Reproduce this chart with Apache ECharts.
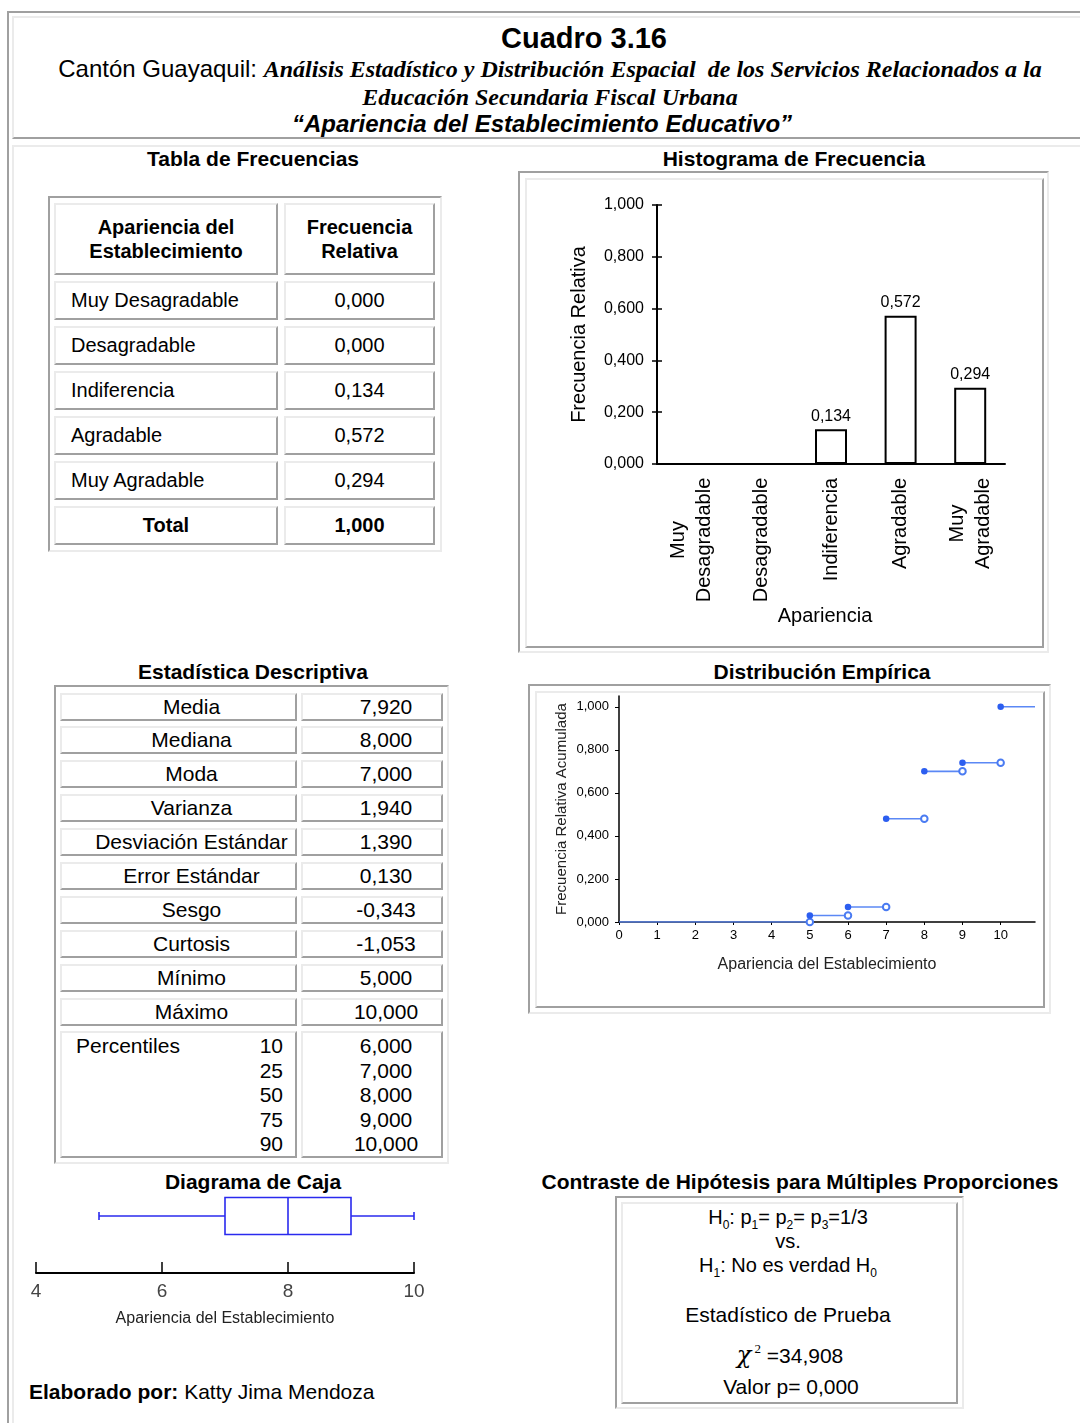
<!DOCTYPE html>
<html><head><meta charset="utf-8">
<script src="https://cdn.jsdelivr.net/npm/echarts@6/dist/echarts.min.js"></script>
<style>
html,body{margin:0;padding:0;background:#fff;}
body{width:1080px;height:1423px;position:relative;overflow:hidden;font-family:'Liberation Sans',Arial,sans-serif;color:#000;}
.abs{position:absolute;box-sizing:border-box;}
.outer{border:2px solid;border-color:#a0a0a0 #ebebeb #ebebeb #a0a0a0;}
.cell{border:2px solid;border-color:#ebebeb #a0a0a0 #a0a0a0 #ebebeb;}
.t{position:absolute;white-space:nowrap;text-align:center;}
sub,sup{line-height:0;}
#chart{position:absolute;left:0;top:0;width:1080px;height:1423px;}
</style></head><body>
<div id="page"></div>
<div id="chart"></div>
<script>
// ---------------- DATA ----------------
const freqCategories = ['Muy Desagradable', 'Desagradable', 'Indiferencia', 'Agradable', 'Muy Agradable'];
const freqValues = [0.000, 0.000, 0.134, 0.572, 0.294];
const freqTotal = 1.000;
const histLabels = ['Muy\nDesagradable', 'Desagradable', 'Indiferencia', 'Agradable', 'Muy\nAgradable'];
const histYTicks = [0, 0.2, 0.4, 0.6, 0.8, 1.0];
const statNames = ['Media', 'Mediana', 'Moda', 'Varianza', 'Desviación Estándar', 'Error Estándar', 'Sesgo', 'Curtosis', 'Mínimo', 'Máximo'];
const statValues = [7.920, 8.000, 7.000, 1.940, 1.390, 0.130, -0.343, -1.053, 5.000, 10.000];
const percentileLevels = [10, 25, 50, 75, 90];
const percentileValues = [6.000, 7.000, 8.000, 9.000, 10.000];
const ecdfX = [0, 5, 6, 7, 8, 9, 10];
const ecdfY = [0.000, 0.030, 0.070, 0.480, 0.700, 0.740, 1.000];
const ecdfXTicks = [0, 1, 2, 3, 4, 5, 6, 7, 8, 9, 10];
const ecdfYTicks = [0, 0.2, 0.4, 0.6, 0.8, 1.0];
const boxStats = [5, 7, 8, 9, 10]; // min, Q1, median, Q3, max
const boxXTicks = [4, 6, 8, 10];
const chiSquare = 34.908;
const pValue = 0.000;

const fmt = v => v.toFixed(3).replace('.', ',');
const page = document.getElementById('page');

function box(x, y, w, h, cls, css) {
  const d = document.createElement('div');
  d.className = 'abs ' + (cls || '');
  d.style.left = x + 'px'; d.style.top = y + 'px';
  d.style.width = w + 'px'; d.style.height = h + 'px';
  if (css) d.style.cssText += css;
  page.appendChild(d);
  return d;
}
function txt(cx, cy, html, css, lh) {
  lh = lh || 30;
  const d = document.createElement('div');
  d.className = 't';
  d.style.left = (cx - 600) + 'px'; d.style.width = '1200px';
  d.style.top = (cy - lh / 2) + 'px'; d.style.lineHeight = lh + 'px';
  if (css) d.style.cssText += css;
  d.innerHTML = html;
  page.appendChild(d);
  return d;
}
function cellText(el, html, css) {
  el.innerHTML = html;
  el.style.cssText += css;
}

// ---------------- PAGE FRAMES ----------------
box(7, 11, 1110, 1500, '', 'border-top:2px solid #a0a0a0;border-left:2px solid #a0a0a0;');
box(12, 16, 1100, 123, '', 'border-top:2px solid #ebebeb;border-left:2px solid #ebebeb;border-bottom:2px solid #a0a0a0;');
box(12, 145, 1100, 1400, '', 'border-top:2px solid #ebebeb;border-left:2px solid #ebebeb;');

// ---------------- HEADER ----------------
txt(584, 38, 'Cuadro 3.16', 'font-size:29px;font-weight:bold;');
txt(550, 69, 'Cantón Guayaquil: <span style="font-family:\'Liberation Serif\',serif;font-style:italic;font-weight:bold;">Análisis Estadístico y Distribución Espacial&nbsp; de los Servicios Relacionados a la</span>', 'font-size:24px;');
txt(550, 97, 'Educación Secundaria Fiscal Urbana', 'font-size:24px;font-family:\'Liberation Serif\',serif;font-style:italic;font-weight:bold;');
txt(542, 124, '“Apariencia del Establecimiento Educativo”', 'font-size:24px;font-weight:bold;font-style:italic;');

// ---------------- SECTION TITLES ----------------
const secCss = 'font-size:21px;font-weight:bold;';
txt(253, 159, 'Tabla de Frecuencias', secCss);
txt(794, 159, 'Histograma de Frecuencia', secCss);
txt(253, 672, 'Estadística Descriptiva', secCss);
txt(822, 672, 'Distribución Empírica', secCss);
txt(253, 1182, 'Diagrama de Caja', secCss);
txt(800, 1182, 'Contraste de Hipótesis para Múltiples Proporciones', secCss);

// ---------------- FREQUENCY TABLE ----------------
box(48, 196, 394, 356, 'outer');
{
  const h1 = box(54, 203, 224, 72, 'cell');
  cellText(h1, 'Apariencia del<br>Establecimiento', 'font-size:20px;font-weight:bold;text-align:center;line-height:24px;padding-top:10px;');
  const h2 = box(284, 203, 151, 72, 'cell');
  cellText(h2, 'Frecuencia<br>Relativa', 'font-size:20px;font-weight:bold;text-align:center;line-height:24px;padding-top:10px;');
  const rows = freqCategories.map((c, i) => [c, fmt(freqValues[i]), false]);
  rows.push(['Total', fmt(freqTotal), true]);
  rows.forEach((r, i) => {
    const y = 281 + i * 45;
    const a = box(54, y, 224, 39, 'cell');
    cellText(a, r[0], 'font-size:20px;line-height:35px;' + (r[2] ? 'font-weight:bold;text-align:center;' : 'padding-left:15px;'));
    const b = box(284, y, 151, 39, 'cell');
    cellText(b, r[1], 'font-size:20px;line-height:35px;text-align:center;' + (r[2] ? 'font-weight:bold;' : ''));
  });
}

// ---------------- HISTOGRAM FRAME ----------------
box(518, 171, 531, 482, 'outer');
box(525, 178, 519, 470, 'cell');

// ---------------- STATISTICS TABLE ----------------
box(54, 685, 395, 479, 'outer');
statNames.forEach((n, i) => {
  const y = 692.5 + i * 33.9;
  const a = box(60, y, 237, 28, 'cell');
  cellText(a, n, 'font-size:21px;line-height:24px;text-align:center;padding-left:26px;');
  const b = box(301, y, 142, 28, 'cell');
  cellText(b, fmt(statValues[i]), 'font-size:21px;line-height:24px;text-align:center;padding-left:28px;');
});
{
  const y = 1031;
  const a = box(60, y, 237, 127, 'cell');
  a.style.lineHeight = '24.5px';
  a.style.fontSize = '21px';
  const lbl = document.createElement('div');
  lbl.className = 'abs'; lbl.style.left = '14px'; lbl.style.top = '1px'; lbl.textContent = 'Percentiles';
  a.appendChild(lbl);
  const nums = document.createElement('div');
  nums.className = 'abs'; nums.style.right = '12px'; nums.style.top = '1px'; nums.style.textAlign = 'right';
  nums.innerHTML = percentileLevels.join('<br>');
  a.appendChild(nums);
  const b = box(301, y, 142, 127, 'cell');
  b.style.lineHeight = '24.5px'; b.style.fontSize = '21px';
  b.innerHTML = '<div style="position:absolute;left:28px;right:0;top:1px;text-align:center;">' + percentileValues.map(fmt).join('<br>') + '</div>';
}

// ---------------- ECDF FRAME ----------------
box(528, 684, 523, 330, 'outer');
box(535, 691, 510, 317, 'cell');

// ---------------- HYPOTHESIS BOX ----------------
box(615, 1196, 349, 213, 'outer');
box(621, 1202, 337, 202, 'cell');
{
  const hc = 'font-size:20px;';
  txt(788, 1217, 'H<sub style="font-size:12px;">0</sub>: p<sub style="font-size:12px;">1</sub>= p<sub style="font-size:12px;">2</sub>= p<sub style="font-size:12px;">3</sub>=1/3', hc, 24);
  txt(788, 1241, 'vs.', hc, 24);
  txt(788, 1265, 'H<sub style="font-size:12px;">1</sub>: No es verdad H<sub style="font-size:12px;">0</sub>', hc, 24);
  txt(788, 1315, 'Estadístico de Prueba', 'font-size:21px;', 24);
  txt(790, 1355, '<span style="font-family:\'DejaVu Serif\',serif;font-style:italic;font-size:24px;">χ</span><sup style="font-family:\'Liberation Serif\',serif;font-size:13px;vertical-align:10px;">&nbsp;2</sup> =' + chiSquare.toFixed(3).replace('.', ','), 'font-size:21px;', 30);
  txt(791, 1387, 'Valor p= ' + fmt(pValue), 'font-size:21px;', 24);
}

// ---------------- FOOTER ----------------
{
  const d = document.createElement('div');
  d.className = 't';
  d.style.cssText += 'left:29px;top:1378px;line-height:28px;font-size:21px;text-align:left;';
  d.innerHTML = '<b>Elaborado por:</b> Katty Jima Mendoza';
  page.appendChild(d);
}

// ---------------- CHARTS ----------------
const measureCtx = document.createElement('canvas').getContext('2d');
measureCtx.font = '20px "Liberation Sans", Arial, sans-serif';
const histRich = {};
histLabels.forEach((l, i) => {
  const w = Math.max(...l.split('\n').map(s => measureCtx.measureText(s).width));
  histRich['w' + i] = { width: Math.ceil(w) + 1, align: 'center', fontSize: 20, lineHeight: 26, color: '#000', fontFamily: 'Liberation Sans' };
});

const chart = echarts.init(document.getElementById('chart'), null, { renderer: 'canvas' });
const ff = 'Liberation Sans';
const black = '#000';

const ecdfMaxX = 10.9;
const ecdfSeries = [];
for (let i = 0; i < ecdfX.length; i++) {
  const x0 = ecdfX[i];
  const x1 = i + 1 < ecdfX.length ? ecdfX[i + 1] : ecdfMaxX;
  const y = ecdfY[i];
  const startItem = { value: [x0, y], symbol: i === 0 ? 'none' : 'circle', itemStyle: { color: '#2c5ef0' } };
  const endItem = { value: [x1, y], symbol: i + 1 < ecdfX.length ? 'emptyCircle' : 'none', itemStyle: { color: '#4a7bf2', borderWidth: 1.5 } };
  ecdfSeries.push({
    type: 'line', xAxisIndex: 1, yAxisIndex: 2,
    data: [startItem, endItem],
    symbolSize: 6.5, showSymbol: true,
    lineStyle: { color: '#5b88f5', width: 1.6 },
    itemStyle: { color: '#2c5ef0' },
    animation: false, silent: true, z: 3
  });
}

const option = {
  backgroundColor: 'transparent',
  animation: false,
  textStyle: { fontFamily: ff },
  grid: [
    { left: 657, top: 205, width: 348, height: 259 },
    { left: 619, top: 696, width: 416, height: 226 },
    { left: 36, top: 1159, width: 378, height: 114 }
  ],
  xAxis: [
    {
      gridIndex: 0, type: 'category', data: histLabels,
      axisLine: { show: true, lineStyle: { color: black, width: 2 } },
      axisTick: { show: false },
      axisLabel: {
        rotate: 90, margin: 13, color: black, fontSize: 20, fontFamily: ff,
        formatter: (v, i) => v.split('\n').map(s => '{w' + i + '|' + s + '}').join('\n'),
        rich: histRich
      },
      name: 'Apariencia', nameLocation: 'middle', nameGap: 142,
      nameTextStyle: { fontSize: 20, color: black, fontFamily: ff, padding: [0, 12, 0, 0] }
    },
    {
      gridIndex: 1, type: 'value', min: 0, max: ecdfMaxX, interval: 1,
      axisLine: { show: true, onZero: false, lineStyle: { color: black, width: 1.5 } },
      axisTick: { show: true, length: 3, lineStyle: { color: black }, customValues: ecdfXTicks },
      axisLabel: { color: black, fontSize: 13, margin: 7, fontFamily: ff, customValues: ecdfXTicks,
        formatter: v => (Number.isInteger(v) ? String(v) : '') },
      splitLine: { show: false },
      name: 'Apariencia del Establecimiento', nameLocation: 'middle', nameGap: 35,
      nameTextStyle: { fontSize: 16, color: '#222', fontFamily: ff }
    },
    {
      gridIndex: 2, type: 'value', min: 4, max: 10, interval: 2,
      axisLine: { show: true, onZero: false, lineStyle: { color: black, width: 2 } },
      axisTick: { show: true, inside: true, length: 11, lineStyle: { color: black, width: 1.5 } },
      axisLabel: { color: '#444', fontSize: 19, margin: 9, fontFamily: ff },
      splitLine: { show: false },
      name: 'Apariencia del Establecimiento', nameLocation: 'middle', nameGap: 38,
      nameTextStyle: { fontSize: 16, color: '#222', fontFamily: ff }
    }
  ],
  yAxis: [
    {
      gridIndex: 0, type: 'value', min: 0, max: 1, interval: 0.2,
      axisLine: { show: true, lineStyle: { color: black, width: 2 } },
      axisTick: { show: true, length: 5, lineStyle: { color: black, width: 1.5 } },
      axisLabel: { color: black, fontSize: 16, margin: 13, fontFamily: ff, formatter: v => fmt(v) },
      splitLine: { show: false },
      name: 'Frecuencia Relativa', nameLocation: 'middle', nameGap: 68,
      nameTextStyle: { fontSize: 20, color: black, fontFamily: ff }
    },
    {
      gridIndex: 0, type: 'value', min: 0, max: 1, interval: 0.2, position: 'left',
      axisLine: { show: false },
      axisTick: { show: true, inside: true, length: 5, lineStyle: { color: black, width: 1.5 } },
      axisLabel: { show: false }, splitLine: { show: false }
    },
    {
      gridIndex: 1, type: 'value', min: 0, max: 1.05, interval: 0.2,
      axisLine: { show: true, lineStyle: { color: black, width: 1.5 } },
      axisTick: { show: true, length: 4, lineStyle: { color: black }, customValues: ecdfYTicks },
      axisLabel: { color: black, fontSize: 13, margin: 10, fontFamily: ff, customValues: ecdfYTicks,
        formatter: v => (v > 1.001 ? '' : fmt(v)) },
      splitLine: { show: false },
      name: 'Frecuencia Relativa Acumulada', nameLocation: 'middle', nameGap: 50,
      nameTextStyle: { fontSize: 15, color: '#222', fontFamily: ff }
    },
    {
      gridIndex: 2, type: 'category', data: [''], show: false
    }
  ],
  series: [
    {
      type: 'bar', xAxisIndex: 0, yAxisIndex: 0, data: freqValues, barWidth: 32,
      itemStyle: { color: '#fff', borderColor: black, borderWidth: 2 },
      label: { show: true, position: 'top', distance: 5, color: black, fontSize: 16, fontFamily: ff,
        formatter: p => (p.value > 0 ? fmt(p.value) : '') },
      silent: true
    },
    ...ecdfSeries,
    {
      type: 'custom', xAxisIndex: 2, yAxisIndex: 3,
      data: [boxStats.concat([0])],
      encode: { x: [0, 1, 2, 3, 4], y: 5 },
      renderItem: (params, api) => {
        const px = v => api.coord([v, 0])[0];
        const cy = api.coord([api.value(2), 0])[1];
        const half = 18.5, cap = 4;
        const st = { stroke: '#2a2aee', lineWidth: 1.6, fill: null };
        const mn = px(api.value(0)), q1 = px(api.value(1)), md = px(api.value(2)), q3 = px(api.value(3)), mx = px(api.value(4));
        return {
          type: 'group', children: [
            { type: 'line', shape: { x1: mn, y1: cy, x2: q1, y2: cy }, style: st },
            { type: 'line', shape: { x1: q3, y1: cy, x2: mx, y2: cy }, style: st },
            { type: 'line', shape: { x1: mn, y1: cy - cap, x2: mn, y2: cy + cap }, style: st },
            { type: 'line', shape: { x1: mx, y1: cy - cap, x2: mx, y2: cy + cap }, style: st },
            { type: 'rect', shape: { x: q1, y: cy - half, width: q3 - q1, height: 2 * half }, style: { stroke: '#2a2aee', lineWidth: 1.6, fill: 'rgba(0,0,0,0)' } },
            { type: 'line', shape: { x1: md, y1: cy - half, x2: md, y2: cy + half }, style: st }
          ]
        };
      },
      silent: true
    }
  ]
};
chart.setOption(option);
</script>
</body></html>
